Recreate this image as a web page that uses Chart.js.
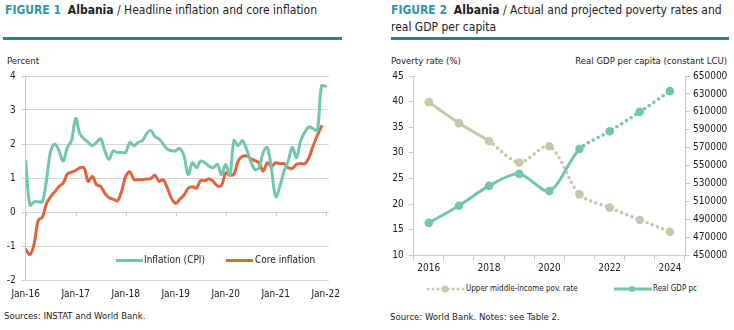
<!DOCTYPE html>
<html><head><meta charset="utf-8">
<script src="https://cdn.jsdelivr.net/npm/chart.js@4.4.1/dist/chart.umd.min.js"></script>
<style>
body{margin:0;width:734px;height:330px;background:#fff;position:relative;overflow:hidden;font-family:"DejaVu Sans Condensed","Liberation Sans",Arial,sans-serif;color:#222}
.abs{position:absolute;white-space:nowrap}
.title{font-size:12px;line-height:16.5px}
.fig{color:#2f97a6;font-weight:bold}
.rule{position:absolute;height:3px;background:#2c8090}
.small{font-size:9.5px}
.leg{font-size:10px}
.leg2{font-size:8px}
</style></head>
<body>
<div class="abs title" style="left:5px;top:2px"><span class="fig">FIGURE 1</span>&nbsp; <b>Albania</b> / Headline inflation and core inflation</div>
<div class="rule" style="left:3px;top:37px;width:339px"></div>
<div class="abs small" style="left:7px;top:55px">Percent</div>
<div class="abs" style="left:0;top:66px;width:345px;height:240px"><canvas id="c1" width="345" height="240"></canvas></div>
<div class="abs" style="left:116px;top:259px;width:27px;height:3px;background:#72c6a9"></div>
<div class="abs leg" style="left:144px;top:254px">Inflation (CPI)</div>
<div class="abs" style="left:226px;top:259px;width:27px;height:3px;background:#e0643c"></div>
<div class="abs leg" style="left:255px;top:254px">Core inflation</div>
<div class="abs small" style="left:4px;top:310px">Sources: INSTAT and World Bank.</div>

<div class="abs title" style="left:391px;top:2px"><span class="fig">FIGURE 2</span>&nbsp; <b>Albania</b> / Actual and projected poverty rates and<br>real GDP per capita</div>
<div class="rule" style="left:391px;top:37px;width:338px"></div>
<div class="abs small" style="left:391px;top:55px">Poverty rate (%)</div>
<div class="abs small" style="right:7px;top:55px">Real GDP per capita (constant LCU)</div>
<div class="abs" style="left:388px;top:66px;width:346px;height:210px"><canvas id="c2" width="346" height="210"></canvas></div>
<svg class="abs" style="left:425px;top:284px" width="42" height="10"><line x1="3" y1="5" x2="39" y2="5" stroke="#c9c6ab" stroke-width="3" stroke-linecap="round" stroke-dasharray="0 5"/><circle cx="20" cy="5" r="3.5" fill="#c9c6ab"/></svg>
<div class="abs leg2" style="left:466px;top:284px">Upper middle-income pov. rate</div>
<svg class="abs" style="left:613px;top:284px" width="40" height="10"><line x1="1" y1="5" x2="39" y2="5" stroke="#72c6a9" stroke-width="3"/><circle cx="19" cy="5" r="3" fill="#72c6a9"/></svg>
<div class="abs leg2" style="left:653px;top:284px">Real GDP pc</div>
<div class="abs small" style="left:390px;top:311px">Source: World Bank. Notes: see Table 2.</div>

<script>
// ---------- Figure 1 data (monthly, Jan-16 .. Jan-22) ----------
const monthTickLabels = ['Jan-16','Jan-17','Jan-18','Jan-19','Jan-20','Jan-21','Jan-22'];
const cpiInflation = [
  1.5, 0.2, 0.3, 0.3, 0.3, 0.95, 1.8, 2.0, 1.8, 1.5, 1.9, 2.1,
  2.75, 2.3, 2.15, 2.05, 1.95, 2.05, 2.15, 1.8, 1.55, 1.8, 1.75, 1.75,
  1.75, 2.05, 1.95, 2.05, 2.1, 2.3, 2.4, 2.22, 2.15, 2.0, 1.85, 1.8,
  1.8, 1.87, 1.65, 1.1, 1.45, 1.3, 1.5, 1.45, 1.35, 1.3, 1.4, 1.1,
  1.4, 1.1, 2.1, 1.95, 2.1, 1.85, 1.5, 1.25, 1.3, 1.75, 1.9, 1.25,
  0.45, 0.75, 1.2, 1.5, 1.9, 1.6, 2.1, 2.35, 2.5, 2.45, 2.4, 3.7,
  3.7
];
const coreInflation = [
  -1.1, -1.25, -0.95, -0.25, -0.15, 0.25, 0.45, 0.6, 0.75, 0.85, 1.12, 1.17,
  1.22, 1.3, 1.3, 0.9, 1.05, 0.8, 0.75, 0.55, 0.42, 0.38, 0.33, 0.6,
  1.05, 1.18, 0.95, 0.95, 0.95, 0.97, 0.98, 1.08, 0.9, 0.95, 0.7, 0.4,
  0.25, 0.38, 0.5, 0.7, 0.74, 0.7, 0.93, 0.92, 0.98, 0.9, 0.77, 0.78,
  1.15, 1.08, 1.12, 1.5, 1.63, 1.65, 1.57, 1.51, 1.45, 1.2, 1.45, 1.35,
  1.45, 1.42, 1.42, 1.3, 1.28, 1.4, 1.43, 1.42, 1.6, 1.95, 2.25, 2.52,
  null
];

// ---------- Figure 2 data (annual) ----------
const years = ['2016','2017','2018','2019','2020','2021','2022','2023','2024'];
const povertyRate = [39.9, 35.8, 32.3, 28.1, 31.3, 21.9, 19.3, 16.9, 14.6];
const realGdpPc = [486200, 505300, 527400, 540800, 521800, 568500, 588300, 610000, 633100];
const povertyProjectedFrom = '2018';
const gdpProjectedFrom = '2021';

const GREEN = '#72c6a9', RED = '#e0643c', BEIGE = '#c9c6ab', TEAL = '#72c6a9';
const AXIS = '#c9c9c9', GRID = '#d6d6d6', TXT = '#222';
const FONT = {family: '"DejaVu Sans Condensed","Liberation Sans",Arial,sans-serif', size: 10};

const zeroTicks = {
  id: 'zeroTicks',
  beforeDatasetsDraw(chart) {
    const {ctx, scales: {x, y}} = chart;
    const y0 = y.getPixelForValue(0);
    ctx.save();
    ctx.strokeStyle = AXIS; ctx.lineWidth = 1;
    x.ticks.forEach(t => {
      const px = Math.round(x.getPixelForValue(t.value)) + 0.5;
      ctx.beginPath(); ctx.moveTo(px, y0); ctx.lineTo(px, y0 + 4); ctx.stroke();
    });
    ctx.restore();
  }
};

new Chart(document.getElementById('c1'), {
  type: 'line',
  data: {
    datasets: [
      {label: 'Inflation (CPI)', data: cpiInflation.map((v, i) => ({x: i, y: v})),
       borderColor: GREEN, borderWidth: 3, pointRadius: 0, tension: 0.35, borderCapStyle: 'round'},
      {label: 'Core inflation', data: coreInflation.map((v, i) => ({x: i, y: v})),
       borderColor: RED, borderWidth: 3, pointRadius: 0, tension: 0.35, borderCapStyle: 'round'}
    ]
  },
  options: {
    responsive: false, animation: false,
    layout: {padding: {top: 10, right: 16, left: 0, bottom: 0}},
    plugins: {legend: {display: false}, tooltip: {enabled: false}},
    scales: {
      x: {
        type: 'linear', min: 0, max: 72.8,
        afterBuildTicks: s => { s.ticks = monthTickLabels.map((l, i) => ({value: i * 12})); },
        ticks: {callback: v => monthTickLabels[Math.round(v / 12)], padding: 8, maxRotation: 0, autoSkip: false, font: FONT, color: TXT},
        grid: {display: false, drawTicks: false},
        border: {display: false},
        afterFit: s => { s.height = 26; s.paddingLeft = 0; s.paddingRight = 0; }
      },
      y: {
        min: -2, max: 4,
        ticks: {stepSize: 1, padding: 6, font: FONT, color: TXT},
        grid: {color: GRID, tickLength: 4, tickColor: AXIS},
        border: {color: AXIS},
        afterFit: s => { s.width = 25.7; s.paddingTop = 0; s.paddingBottom = 0; }
      }
    }
  },
  plugins: [zeroTicks]
});

const povStart = years.indexOf(povertyProjectedFrom);
const gdpStart = years.indexOf(gdpProjectedFrom);

new Chart(document.getElementById('c2'), {
  type: 'line',
  data: {
    labels: years,
    datasets: [
      {label: 'Upper middle-income pov. rate', data: povertyRate, yAxisID: 'y',
       borderColor: BEIGE, backgroundColor: BEIGE, borderWidth: 3, pointRadius: 4.3, pointBorderWidth: 0,
       tension: 0.3, borderCapStyle: 'round',
       segment: {borderDash: c => c.p0DataIndex >= povStart ? [0, 5.5] : undefined,
                 borderWidth: c => c.p0DataIndex >= povStart ? 3.6 : undefined}},
      {label: 'Real GDP pc', data: realGdpPc, yAxisID: 'y1',
       borderColor: TEAL, backgroundColor: TEAL, borderWidth: 3, pointRadius: 4.3, pointBorderWidth: 0,
       tension: 0.3, borderCapStyle: 'round',
       segment: {borderDash: c => c.p0DataIndex >= gdpStart ? [0, 5.5] : undefined,
                 borderWidth: c => c.p0DataIndex >= gdpStart ? 3.6 : undefined}}
    ]
  },
  options: {
    responsive: false, animation: false,
    layout: {padding: {top: 10, right: 0, left: 0, bottom: 0}},
    plugins: {legend: {display: false}, tooltip: {enabled: false}},
    scales: {
      x: {
        offset: true,
        grid: {offset: true, drawOnChartArea: false, tickLength: 5, color: AXIS},
        border: {color: AXIS},
        ticks: {callback: function (v, i) { return i % 2 === 0 ? this.getLabelForValue(v) : ''; },
                autoSkip: false, maxRotation: 0, padding: 2, font: FONT, color: TXT},
        afterFit: s => { s.height = 20.7; s.paddingLeft = 0; s.paddingRight = 0; }
      },
      y: {
        position: 'left', min: 10, max: 45,
        ticks: {stepSize: 5, padding: 5, font: FONT, color: TXT},
        grid: {drawOnChartArea: false, tickLength: 5, color: AXIS},
        border: {color: AXIS},
        afterFit: s => { s.width = 25.7; s.paddingTop = 0; s.paddingBottom = 0; }
      },
      y1: {
        position: 'right', min: 450000, max: 650000,
        ticks: {stepSize: 20000, padding: 3, font: FONT, color: TXT, callback: v => String(v)},
        grid: {drawOnChartArea: false, tickLength: 5, color: AXIS},
        border: {color: AXIS},
        afterFit: s => { s.width = 49; s.paddingTop = 0; s.paddingBottom = 0; }
      }
    }
  }
});
</script>
</body></html>
